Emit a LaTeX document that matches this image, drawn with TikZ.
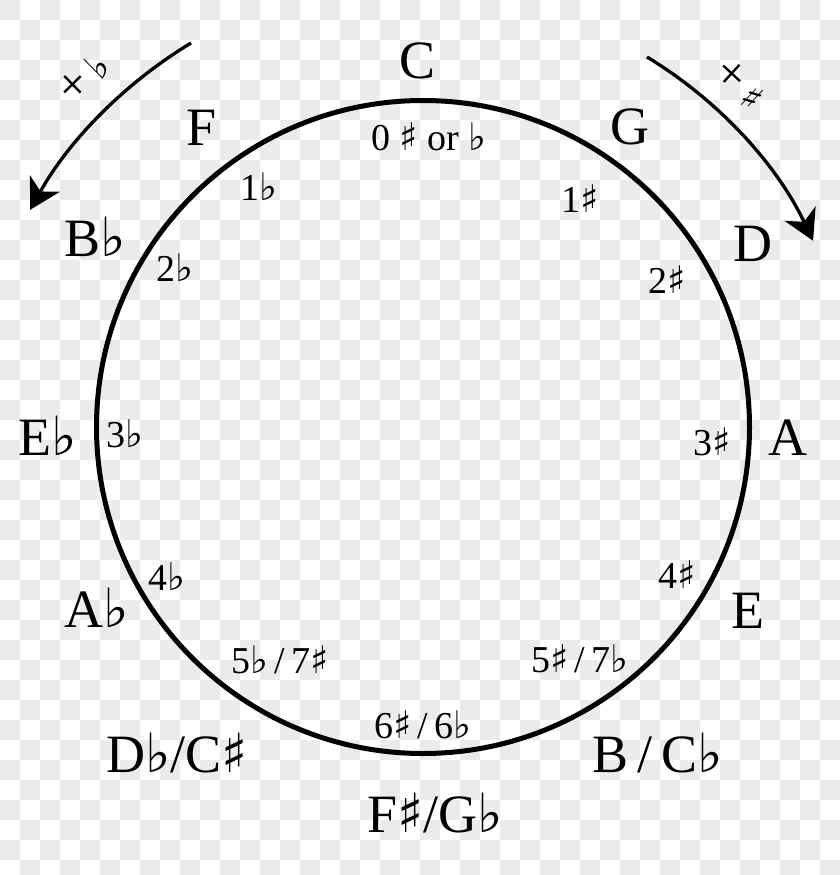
\documentclass[tikz,border=0pt]{standalone}
\usepackage{fontspec}
\setmainfont{Liberation Serif}
\newfontfamily\symfont{DejaVu Sans}
\usetikzlibrary{arrows.meta}
\definecolor{chk}{HTML}{EBEBEB}
\tikzset{
  note/.style={font=\fontsize{54}{54}\selectfont, anchor=base, inner sep=0pt},
  keysig/.style={font=\fontsize{38}{38}\selectfont, anchor=base, inner sep=0pt},
  turn/.style={inner sep=0pt, font=\fontsize{50}{50}\selectfont},
  wheel/.style={circle, draw=black, line width=5pt, inner sep=0pt, minimum size=653pt},
  turnarrow/.style={line width=3.3pt, -{Stealth[length=30pt, width=34pt, inset=9pt]}}
}
\newcommand{\sh}{{\symfont ♯}}
\newcommand{\fl}{{\symfont ♭}}
\begin{document}
\begin{tikzpicture}[x=1pt,y=-1pt]
\useasboundingbox (0,0) rectangle (840,875);
\begin{scope}
\clip (0,0) rectangle (840,875);
\fill[white] (0,0) rectangle (840,875);
\foreach \i in {0,...,41}{\foreach \j in {0,...,43}{%
  \pgfmathtruncatemacro\s{mod(\i+\j,2)}%
  \ifnum\s=0 \fill[chk] (\i*20,\j*20) rectangle ++(20,20);\fi}}
\end{scope}

\node[wheel] (circ) at (423,427) {};

% outer note names
\node[note] (nC)  at (418,78)  {C};
\node[note] (nG)  at (630,144) {G};
\node[note] (nD)  at (753,261) {D};
\node[note] (nA)  at (788,455) {A};
\node[note] (nE)  at (748,628) {E};
\node[note] (nB)  at (658,772) {B\,/\,C\fl};
\node[note] (nFs) at (435,832) {F\sh/G\fl};
\node[note] (nDb) at (177,772) {D\fl/C\sh};
\node[note] (nAb) at (97,627)  {A\fl};
\node[note] (nEb) at (48,455)  {E\fl};
\node[note] (nBb) at (95,256)  {B\fl};
\node[note] (nF)  at (202,145) {F};

% key signatures
\node[keysig] (k0)  at (429,150) {0 \sh{} or \fl};
\node[keysig] (k1s) at (580,212) {1\sh};
\node[keysig] (k2s) at (667,293) {2\sh};
\node[keysig] (k3s) at (712,455) {3\sh};
\node[keysig] (k4s) at (677,588) {4\sh};
\node[keysig] (k5s) at (580,672) {5\sh\,/\,7\fl};
\node[keysig] (k6)  at (423,738) {6\sh\,/\,6\fl};
\node[keysig] (k5f) at (280,673) {5\fl\,/\,7\sh};
\node[keysig] (k4f) at (167,590) {4\fl};
\node[keysig] (k3f) at (125,447) {3\fl};
\node[keysig] (k2f) at (175,281) {2\fl};
\node[keysig] (k1f) at (259,200) {1\fl};

% direction arrows
\coordinate (lstart) at (191,43);
\coordinate (rstart) at (647,57);
\draw[turnarrow] (lstart) arc[start angle=-121.2, end angle=-150.9, radius=452];
\draw[turnarrow] (rstart) arc[start angle=-58.8, end angle=-25.4, radius=431];
\node[turn] (lflat)  at (84,78) {\rotatebox{44.5}{+\,{\symfont\fontsize{37}{37}\selectfont ♭}}};
\node[turn] (rsharp) at (740,84) {\rotatebox{-42.7}{+\,{\symfont\fontsize{35}{35}\selectfont ♯}}};
\end{tikzpicture}
\end{document}
